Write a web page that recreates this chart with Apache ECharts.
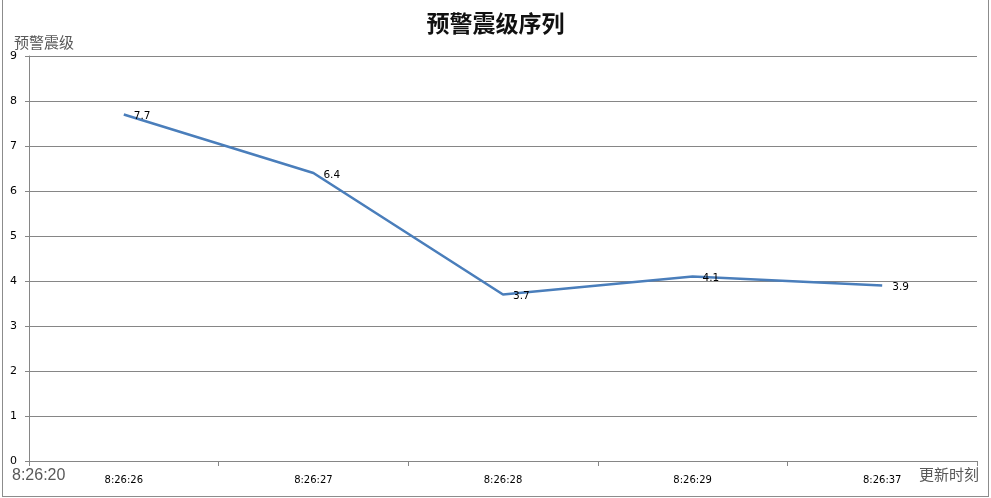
<!DOCTYPE html>
<html><head><meta charset="utf-8">
<script src="https://cdn.jsdelivr.net/npm/echarts@6/dist/echarts.min.js"></script>
<style>
html,body{margin:0;padding:0;background:#fff;}
#c{position:absolute;left:2px;top:0px;width:987px;height:497px;border:1px solid #8c8c8c;border-top:none;box-sizing:border-box;}
</style></head>
<body><div id="c"></div>
<script>
const categories = ['8:26:26','8:26:27','8:26:28','8:26:29','8:26:37'];
const magnitudes = [7.7, 6.4, 3.7, 4.1, 3.9];
const yTicks = [0,1,2,3,4,5,6,7,8,9];
const titleText = '预警震级序列';
const yName = '预警震级';
const xName = '更新时刻';
const originLabel = '8:26:20';

const chart = echarts.init(document.getElementById('c'));
chart.setOption({
  animation:false,
  title:{text:titleText,left:'center',top:7,textStyle:{fontFamily:'Noto Sans CJK SC',fontSize:23,fontWeight:'bold',color:'#111'}},
  grid:{left:26,right:11,top:56,bottom:35},
  xAxis:{type:'category',data:categories,boundaryGap:true,
    axisLine:{lineStyle:{color:'#868686',width:1}},
    axisTick:{show:true,length:5,lineStyle:{color:'#868686'}},
    axisLabel:{color:'#000',fontSize:10,fontFamily:'DejaVu Sans',margin:14},
    name:xName,nameLocation:'end',nameGap:0,
    nameTextStyle:{fontFamily:'Noto Sans CJK SC',fontSize:15,color:'#595959',align:'right',verticalAlign:'top',padding:[6,-2,0,0]}
  },
  yAxis:{type:'value',min:yTicks[0],max:yTicks[yTicks.length-1],interval:1,
    axisLine:{show:true,lineStyle:{color:'#868686'}},
    axisTick:{show:true,length:4,lineStyle:{color:'#868686'}},
    splitLine:{lineStyle:{color:'#868686',width:1}},
    axisLabel:{color:'#000',fontSize:11,fontFamily:'DejaVu Sans',margin:12},
    name:yName,nameLocation:'end',nameGap:6,
    nameTextStyle:{fontFamily:'Noto Sans CJK SC',fontSize:15,color:'#595959',align:'left',padding:[0,0,0,-15]}
  },
  graphic:[{type:'text',left:9,top:468,style:{text:originLabel,fontSize:16,fontFamily:'Liberation Sans',fill:'#595959'}}],
  series:[{type:'line',data:magnitudes,smooth:false,showSymbol:true,symbol:'circle',symbolSize:2,
    itemStyle:{color:'rgba(74,126,187,0)',borderWidth:0},
    lineStyle:{color:'#4A7EBB',width:2.6},
    label:{show:true,position:'right',distance:9,offset:[0,2],fontSize:10.5,fontFamily:'DejaVu Sans',color:'#000'}
  }]
});
</script></body></html>
